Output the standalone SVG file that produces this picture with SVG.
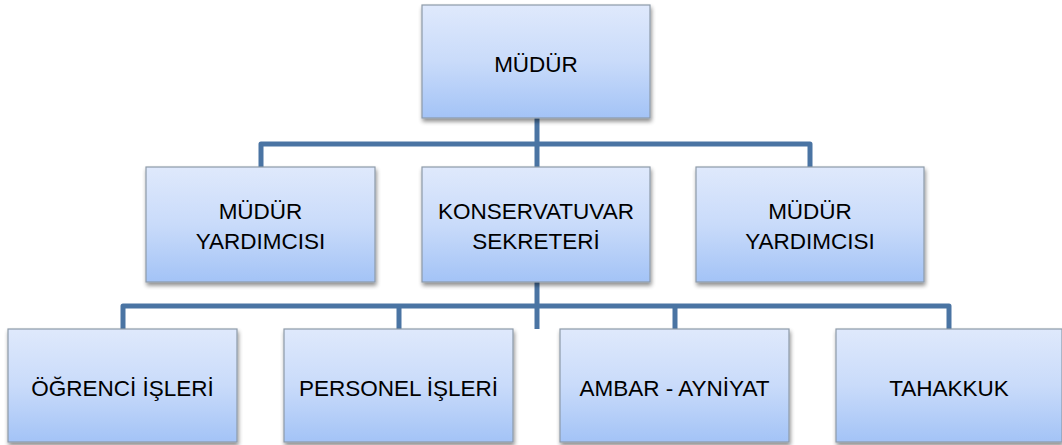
<svg xmlns="http://www.w3.org/2000/svg" width="1062" height="445" viewBox="0 0 1062 445">
<defs>
<linearGradient id="g" x1="0" y1="0" x2="0" y2="1">
<stop offset="0" stop-color="#dfe9fc"/>
<stop offset="0.5" stop-color="#c9dbfa"/>
<stop offset="1" stop-color="#a3c3f6"/>
</linearGradient>
<filter id="sh" x="-10%" y="-10%" width="130%" height="130%">
<feGaussianBlur in="SourceAlpha" stdDeviation="2"/>
<feOffset dx="1" dy="3" result="b"/>
<feComponentTransfer><feFuncA type="linear" slope="0.45"/></feComponentTransfer>
<feMerge><feMergeNode/><feMergeNode in="SourceGraphic"/></feMerge>
</filter>
</defs>
<style>
.box{fill:url(#g);stroke:#8d9aa8;stroke-width:1.2;filter:url(#sh)}
.t{font-family:"Liberation Sans",Arial,sans-serif;font-size:22.5px;fill:#000;text-anchor:middle}
.c{fill:none;stroke:#4a74a3;stroke-width:5;stroke-linejoin:round}
</style>
<g id="connectors">
<path class="c" d="M537 118 V167 M261 167 V144 H810 V167"/>
<path class="c" d="M537 282 V329 M123 329 V306 H949 V329 M399 306 V329 M675 306 V329"/>
</g>
<g id="mudur"><rect class="box" x="422" y="5" width="228" height="113"/><text class="t" x="536" y="72">MÜDÜR</text></g>
<g id="yardimci1"><rect class="box" x="146" y="167" width="229" height="115"/><text class="t" x="260.5" y="219">MÜDÜR</text><text class="t" x="260.5" y="249">YARDIMCISI</text></g>
<g id="sekreter"><rect class="box" x="422" y="167" width="228" height="115"/><text class="t" x="536" y="219">KONSERVATUVAR</text><text class="t" x="536" y="249">SEKRETERİ</text></g>
<g id="yardimci2"><rect class="box" x="696" y="167" width="228" height="115"/><text class="t" x="810" y="219">MÜDÜR</text><text class="t" x="810" y="249">YARDIMCISI</text></g>
<g id="ogrenci"><rect class="box" x="8" y="329" width="229" height="113"/><text class="t" x="122.5" y="396">ÖĞRENCİ İŞLERİ</text></g>
<g id="personel"><rect class="box" x="284" y="329" width="229" height="113"/><text class="t" x="398.5" y="396">PERSONEL İŞLERİ</text></g>
<g id="ambar"><rect class="box" x="560" y="329" width="229" height="113"/><text class="t" x="674.5" y="396">AMBAR - AYNİYAT</text></g>
<g id="tahakkuk"><rect class="box" x="836" y="329" width="226" height="113"/><text class="t" x="949" y="396">TAHAKKUK</text></g>
</svg>
